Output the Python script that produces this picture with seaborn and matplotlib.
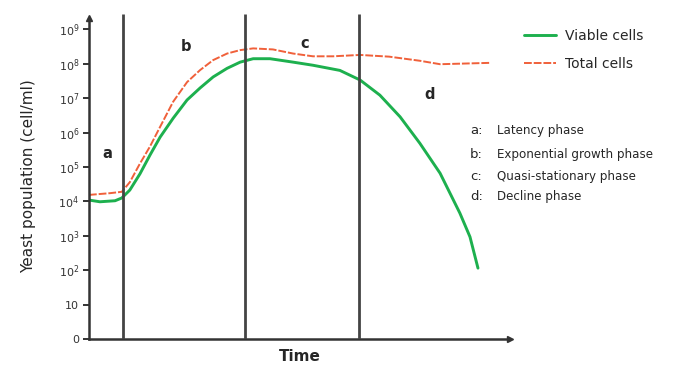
import numpy as np
import pandas as pd
import matplotlib
matplotlib.use('Agg')
import matplotlib.pyplot as plt
import seaborn as sns

# growth curve, time in arbitrary units, population as log10 exponent
viable_t = [0, 0.26, 0.62, 0.78, 0.97, 1.21, 1.45, 1.69, 2.0, 2.33, 2.64, 2.95, 3.28, 3.59,
            3.9, 4.3, 4.85, 5.32, 5.96, 6.44, 6.91, 7.39, 7.86, 8.34, 8.81, 9.05, 9.24]
viable_log = [4.04, 3.99, 4.02, 4.1, 4.33, 4.8, 5.35, 5.87, 6.42, 6.95, 7.3, 7.62, 7.87, 8.05,
              8.15, 8.15, 8.05, 7.96, 7.81, 7.53, 7.09, 6.46, 5.69, 4.82, 3.66, 2.97, 2.06]

total_t = [0, 0.5, 0.78, 0.97, 1.21, 1.45, 1.69, 2.0, 2.33, 2.64, 2.95, 3.28, 3.59, 3.9,
           4.37, 4.85, 5.32, 5.8, 6.44, 7.13, 7.86, 8.34, 9.54]
total_log = [4.19, 4.24, 4.28, 4.56, 5.1, 5.6, 6.17, 6.9, 7.47, 7.82, 8.11, 8.3, 8.4, 8.45,
             8.42, 8.3, 8.22, 8.22, 8.26, 8.21, 8.09, 7.99, 8.03]

phase_bounds = [0.81, 3.7, 6.41]
phase_letters = ['a', 'b', 'c', 'd']
phase_label_t = [0.43, 2.3, 5.12, 8.1]
phase_label_log = [5.4, 8.5, 8.6, 7.1]
phase_names = ['Latency phase', 'Exponential growth phase', 'Quasi-stationary phase', 'Decline phase']

ytick_vals = list(range(10))
ytick_labels = ['0', '10'] + [f'$10^{{{k}}}$' for k in range(2, 10)]

sns.set_style('white')
plt.rcParams['font.family'] = ['DejaVu Sans']

fig = plt.figure(figsize=(6.86, 3.70), dpi=100)
ax = fig.add_axes([0.1297, 0.0838, 0.6137, 0.883])

green = '#1db04e'
orange = '#f0603a'

viable = pd.DataFrame({'t': viable_t, 'log': viable_log})
total = pd.DataFrame({'t': total_t, 'log': total_log})

sns.lineplot(data=total, x='t', y='log', ax=ax, color=orange, lw=1.4,
             linestyle=(0, (4, 1)), label='Total cells', sort=False)
sns.lineplot(data=viable, x='t', y='log', ax=ax, color=green, lw=2.1,
             label='Viable cells', sort=False)

# phase separators
ax.vlines(phase_bounds, 0, 9.45, color='#444444', lw=2.0, zorder=3)

for letter, t, y in zip(phase_letters, phase_label_t, phase_label_log):
    ax.text(t, y, letter, fontsize=10.5, fontweight='bold', ha='center', va='center')

ax.set_xlim(0, 10)
ax.set_ylim(0, 9.5)

for side in ['top', 'right']:
    ax.spines[side].set_visible(False)
for side in ['left', 'bottom']:
    ax.spines[side].set_linewidth(1.8)
    ax.spines[side].set_color('#333333')
ax.spines['left'].set_bounds(0, 9.33)
ax.plot(10, 0, '>', color='#333333', ms=4, clip_on=False, zorder=5)
ax.plot(0, 9.33, '^', color='#333333', ms=4, clip_on=False, zorder=5)

ax.set_xticks([])
ax.set_yticks(ytick_vals)
ax.set_yticklabels(ytick_labels, fontsize=8, color='#333333')
ax.tick_params(axis='y', left=True, length=4, width=1.4, color='#333333', pad=3)

ax.set_xlabel('Time', fontsize=11, fontweight='bold', labelpad=7)
ax.set_ylabel('Yeast population (cell/ml)', fontsize=11, labelpad=16)

handles, labels = ax.get_legend_handles_labels()
order = [1, 0]
leg = ax.legend([handles[i] for i in order], [labels[i] for i in order],
                loc='upper left', bbox_to_anchor=(0.746, 0.955), bbox_transform=fig.transFigure,
                frameon=False, fontsize=10, handlelength=2.3, labelspacing=1.0, handletextpad=0.6)

phase_y = [0.646, 0.582, 0.522, 0.47]
for letter, name, y in zip(phase_letters, phase_names, phase_y):
    fig.text(0.685, y, f'{letter}:', fontsize=9.5, va='center', ha='left')
    fig.text(0.724, y, name, fontsize=8.6, va='center', ha='left')

fig.savefig('out.png', dpi=100)
